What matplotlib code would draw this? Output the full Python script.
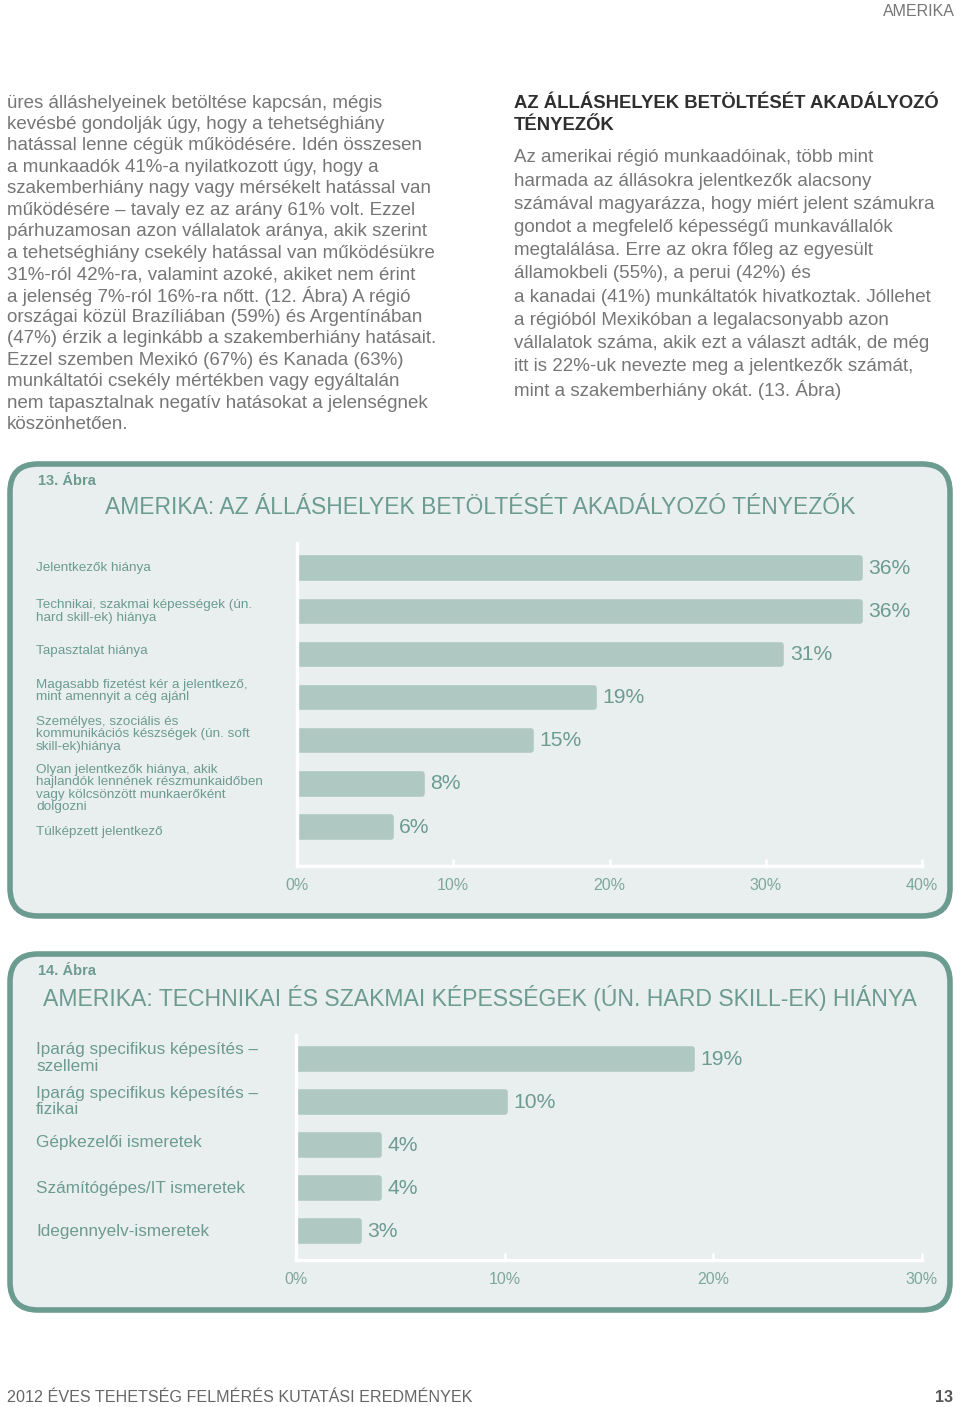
import matplotlib
matplotlib.use("Agg")
import matplotlib.pyplot as plt
from matplotlib.patches import FancyBboxPatch
import matplotlib.transforms as mtransforms

# ---------------- data ----------------
chart1_title = "AMERIKA: AZ ÁLLÁSHELYEK BETÖLTÉSÉT AKADÁLYOZÓ TÉNYEZŐK"
chart1_number = "13. Ábra"
chart1_categories = [
    "Jelentkezők hiánya",
    "Technikai, szakmai képességek (ún.\nhard skill-ek) hiánya",
    "Tapasztalat hiánya",
    "Magasabb fizetést kér a jelentkező,\nmint amennyit a cég ajánl",
    "Személyes, szociális és\nkommunikációs készségek (ún. soft\nskill-ek)hiánya",
    "Olyan jelentkezők hiánya, akik\nhajlandók lennének részmunkaidőben\nvagy kölcsönzött munkaerőként\ndolgozni",
    "Túlképzett jelentkező",
]
chart1_values = [36, 36, 31, 19, 15, 8, 6]
chart1_ticks = [0, 10, 20, 30, 40]
chart1_ticklabels = ["0%", "10%", "20%", "30%", "40%"]

chart2_title = "AMERIKA: TECHNIKAI ÉS SZAKMAI KÉPESSÉGEK (ÚN. HARD SKILL-EK) HIÁNYA"
chart2_number = "14. Ábra"
chart2_categories = [
    "Iparág specifikus képesítés –\nszellemi",
    "Iparág specifikus képesítés –\nfizikai",
    "Gépkezelői ismeretek",
    "Számítógépes/IT ismeretek",
    "Idegennyelv-ismeretek",
]
chart2_values = [19, 10, 4, 4, 3]
chart2_ticks = [0, 10, 20, 30]
chart2_ticklabels = ["0%", "10%", "20%", "30%"]

left_text = [
    "üres álláshelyeinek betöltése kapcsán, mégis",
    "kevésbé gondolják úgy, hogy a tehetséghiány",
    "hatással lenne cégük működésére. Idén összesen",
    "a munkaadók 41%-a nyilatkozott úgy, hogy a",
    "szakemberhiány nagy vagy mérsékelt hatással van",
    "működésére – tavaly ez az arány 61% volt. Ezzel",
    "párhuzamosan azon vállalatok aránya, akik szerint",
    "a tehetséghiány csekély hatással van működésükre",
    "31%-ról 42%-ra, valamint azoké, akiket nem érint",
    "a jelenség 7%-ról 16%-ra nőtt. (12. Ábra) A régió",
    "országai közül Brazíliában (59%) és Argentínában",
    "(47%) érzik a leginkább a szakemberhiány hatásait.",
    "Ezzel szemben Mexikó (67%) és Kanada (63%)",
    "munkáltatói csekély mértékben vagy egyáltalán",
    "nem tapasztalnak negatív hatásokat a jelenségnek",
    "köszönhetően.",
]
right_heading = ["AZ ÁLLÁSHELYEK BETÖLTÉSÉT AKADÁLYOZÓ", "TÉNYEZŐK"]
right_text = [
    "Az amerikai régió munkaadóinak, több mint",
    "harmada az állásokra jelentkezők alacsony",
    "számával magyarázza, hogy miért jelent számukra",
    "gondot a megfelelő képességű munkavállalók",
    "megtalálása. Erre az okra főleg az egyesült",
    "államokbeli (55%), a perui (42%) és",
    "a kanadai (41%) munkáltatók hivatkoztak. Jóllehet",
    "a régióból Mexikóban a legalacsonyabb azon",
    "vállalatok száma, akik ezt a választ adták, de még",
    "itt is 22%-uk nevezte meg a jelentkezők számát,",
    "mint a szakemberhiány okát. (13. Ábra)",
]
page_header = "AMERIKA"
page_footer = "2012 ÉVES TEHETSÉG FELMÉRÉS KUTATÁSI EREDMÉNYEK"
page_number = "13"

# ---------------- style ----------------
W, H = 960, 1407
FONT = "Liberation Sans"
TEAL = "#6c9b8f"
BAR = "#afc8c2"
PANEL = "#e9efef"
BODY = "#767676"
TICKC = "#7ea79b"
# small vertical nudges (pixels, downward) of the category labels vs. their bars
label_nudge1 = [0, 0.5, -3, -6.5, -6.5, 4.5, 5]
label_nudge2 = [-1, -1, -3, 0, 0]

plt.rcParams["font.family"] = [FONT, "DejaVu Sans"]

fig = plt.figure(figsize=(W / 100, H / 100), dpi=100)
fig.patch.set_facecolor("white")

page = fig.add_axes([0, 0, 1, 1])
page.set_xlim(0, W)
page.set_ylim(H, 0)
page.axis("off")

# header / footer
page.text(955, 11, page_header, ha="right", va="center", fontsize=11.5, color="#777777")
page.text(7, 1397, page_footer, ha="left", va="center", fontsize=11.6, color="#666666")
page.text(953, 1397, page_number, ha="right", va="center", fontsize=11.5, color="#555555",
          fontweight="bold")

# body text columns
y0, dy = 103, 21.45
for i, line in enumerate(left_text):
    page.text(7, y0 + i * dy, line, ha="left", va="center", fontsize=13.5, color=BODY)
for i, line in enumerate(right_heading):
    page.text(514, 103 + i * 23, line, ha="left", va="center", fontsize=13.3,
              color="#2f2f2f", fontweight="bold")
for i, line in enumerate(right_text):
    page.text(514, 158 + i * 23.2, line, ha="left", va="center", fontsize=13.5, color=BODY)

# panels
for (top, bottom) in [(462, 918), (952, 1312)]:
    box = FancyBboxPatch((10, top + 2), 940, bottom - top - 4,
                         boxstyle="round,pad=0,rounding_size=28",
                         facecolor=PANEL, edgecolor=TEAL, linewidth=4.0)
    page.add_patch(box)

page.text(38, 481, chart1_number, ha="left", va="center", fontsize=10.5, color=TEAL,
          fontweight="bold")
page.text(480, 507, chart1_title, ha="center", va="center", fontsize=16.5, color=TEAL)
page.text(38, 971, chart2_number, ha="left", va="center", fontsize=10.5, color=TEAL,
          fontweight="bold")
page.text(480, 998, chart2_title, ha="center", va="center", fontsize=16.6, color=TEAL)


def bar_chart(rect, cats, vals, ticks, ticklabels, ylim, cat_size, bar_h, lsp, nudges):
    l, t, r, b = rect
    ax = fig.add_axes([l / W, 1 - b / H, (r - l) / W, (b - t) / H])
    ax.patch.set_alpha(0)
    y = list(range(len(vals)))
    ax.barh(y, vals, height=bar_h, color=BAR, edgecolor=BAR, linewidth=4,
            joinstyle="round", zorder=2)
    ax.set_xlim(ticks[0], ticks[-1])
    ax.set_ylim(*ylim)
    for s in ["top", "right"]:
        ax.spines[s].set_visible(False)
    for s in ["left", "bottom"]:
        ax.spines[s].set_color("white")
        ax.spines[s].set_linewidth(2.4)
        ax.spines[s].set_zorder(3)
    ax.set_yticks([])
    ax.set_xticks(ticks)
    ax.set_xticklabels(ticklabels)
    ax.tick_params(axis="x", direction="in", length=5, width=1.8, color="white",
                   labelcolor=TICKC, labelsize=11.5, pad=9)
    for yi, v in zip(y, vals):
        ax.annotate(f"{v}%", (v, yi), xytext=(6, 0), textcoords="offset points",
                    ha="left", va="center", fontsize=15.2, color=TEAL, zorder=4)
    trans = mtransforms.blended_transform_factory(fig.transFigure, ax.transData)
    for yi, c, nd in zip(y, cats, nudges):
        tr = mtransforms.offset_copy(trans, fig=fig, x=0, y=-nd, units="dots")
        ax.text(36 / W, yi, c, transform=tr, ha="left", va="center",
                fontsize=cat_size, color=TEAL, linespacing=lsp)
    return ax


bar_chart((297, 543, 922, 866), chart1_categories, chart1_values, chart1_ticks,
          chart1_ticklabels, (6.9, -0.58), 9.7, 0.45, 1.06, label_nudge1)
bar_chart((296, 1035, 922, 1260), chart2_categories, chart2_values, chart2_ticks,
          chart2_ticklabels, (4.67, -0.56), 12.3, 0.45, 1.1, label_nudge2)

fig.savefig("out.png", dpi=100, facecolor="white")
